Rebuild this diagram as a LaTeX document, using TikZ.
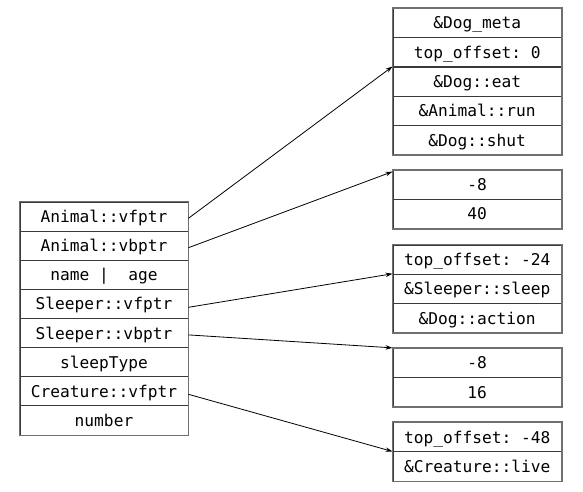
\documentclass[tikz,border=0pt]{standalone}
\usepackage{fontspec}
\setmonofont{DejaVu Sans Mono}
\usetikzlibrary{arrows.meta,fit}
\definecolor{frame}{HTML}{707070}
\definecolor{rule}{HTML}{3A3A3A}
\tikzset{
  cell/.style={draw=rule, line width=0.9pt, rectangle, inner sep=0pt,
    minimum width=168pt, minimum height=29.2pt,
    text height=14pt, text depth=2pt,
    font=\ttfamily\fontsize{16.2}{18}\selectfont},
  wide/.style={minimum width=168.5pt},
  frame/.style={draw=frame, line width=1.8pt, inner sep=0pt},
  ptr/.style={-{Stealth[length=7pt,width=4.5pt]}, line width=0.8pt, black},
}
\begin{document}
\begin{tikzpicture}[x=1pt,y=-1pt]
\useasboundingbox[fill=white] (0,0) rectangle (583,491);

% object layout
\node[cell] (a1) at (104,216.6) {Animal::vfptr};
\node[cell] (a2) at (104,245.7) {Animal::vbptr};
\node[cell] (a3) at (104,274.8) {name~|~~age};
\node[cell] (a4) at (104,303.9) {Sleeper::vfptr};
\node[cell] (a5) at (104,333.1) {Sleeper::vbptr};
\node[cell] (a6) at (104,362.2) {sleepType};
\node[cell] (a7) at (104,391.3) {Creature::vfptr};
\node[cell] (a8) at (104,420.4) {number};
\node[frame, fit=(a1)(a8)] (obj) {};

% Animal virtual table
\node[cell,wide] (b1) at (477.2,22.95) {\&Dog\_meta};
\node[cell,wide] (b2) at (477.2,52.25) {top\_offset:~0};
\node[cell,wide] (b3) at (477.2,81.55) {\&Dog::eat};
\node[cell,wide] (b4) at (477.2,110.85) {\&Animal::run};
\node[cell,wide] (b5) at (477.2,140.15) {\&Dog::shut};
\node[frame, fit=(b1)(b5)] (vtA) {};

% Animal virtual base table
\node[cell,wide] (c1) at (477.2,184.7) {-8};
\node[cell,wide] (c2) at (477.2,213.9) {40};
\node[frame, fit=(c1)(c2)] (vbA) {};

% Sleeper virtual table
\node[cell,wide] (d1) at (477.2,259.6) {top\_offset:~-24};
\node[cell,wide] (d2) at (477.2,288.8) {\&Sleeper::sleep};
\node[cell,wide] (d3) at (477.2,318.0) {\&Dog::action};
\node[frame, fit=(d1)(d3)] (vtS) {};

% Sleeper virtual base table
\node[cell,wide] (e1) at (477.2,362.9) {-8};
\node[cell,wide] (e2) at (477.2,392.1) {16};
\node[frame, fit=(e1)(e2)] (vbS) {};

% Creature virtual table
\node[cell,wide] (f1) at (477.2,437.3) {top\_offset:~-48};
\node[cell,wide] (f2) at (477.2,466.5) {\&Creature::live};
\node[frame, fit=(f1)(f2)] (vtC) {};

% pointers
\draw[ptr] ([yshift=-1.7pt]a1.east) -- (b3.north west);
\draw[ptr] ([yshift=-2pt]a2.east) -- ([yshift=-2pt]c1.north west);
\draw[ptr] ([yshift=-3.4pt]a4.east) -- (d2.north west);
\draw[ptr] ([yshift=-1.8pt]a5.east) -- (e1.north west);
\draw[ptr] ([yshift=-3pt]a7.east) -- (f2.north west);
\end{tikzpicture}
\end{document}
